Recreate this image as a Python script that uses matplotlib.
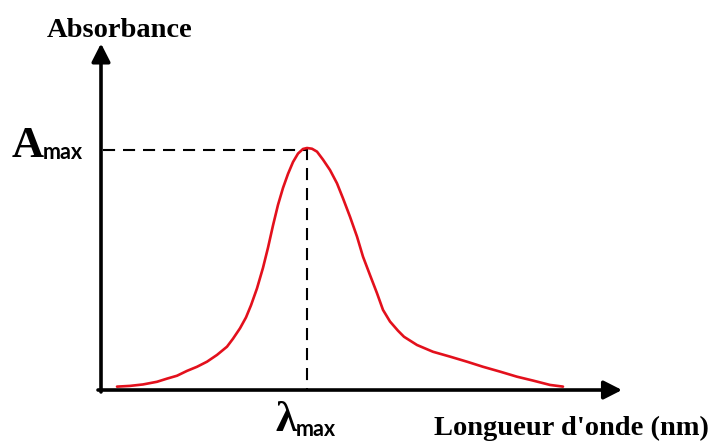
import matplotlib
matplotlib.use("Agg")
import matplotlib.pyplot as plt

# Spectrum data (wavelength in arbitrary units, absorbance normalised to A_max = 1)
wavelength = [16, 29, 42, 56, 66, 76, 86, 96, 106, 116, 126, 132, 139, 145, 150,
              156, 162, 167, 172, 177, 182, 187, 192, 197, 202, 206, 211, 216, 222,
              229, 236, 242, 249, 256, 262, 269, 276, 282, 289, 297, 303, 316, 332,
              349, 366, 382, 399, 416, 432, 449, 462]
absorbance = [0.014, 0.017, 0.023, 0.034, 0.047, 0.059, 0.079, 0.096, 0.117, 0.145,
              0.179, 0.212, 0.255, 0.300, 0.350, 0.420, 0.505, 0.588, 0.680, 0.765,
              0.835, 0.893, 0.942, 0.977, 0.996, 1.0, 0.997, 0.985, 0.952, 0.909,
              0.854, 0.792, 0.716, 0.634, 0.551, 0.475, 0.400, 0.331, 0.283, 0.245,
              0.220, 0.186, 0.158, 0.138, 0.117, 0.096, 0.076, 0.055, 0.039, 0.021,
              0.014]

lambda_max = wavelength[absorbance.index(max(absorbance))]
a_max = max(absorbance)

y_label = "Absorbance"
x_label = "Longueur d'onde (nm)"

fig = plt.figure(figsize=(7.10, 4.41), dpi=100)
ax = fig.add_axes([0, 0, 1, 1])
ax.set_xlim(-101, 609)
ax.set_ylim(-0.2107, 1.6116)
ax.axis("off")

serif = "Liberation Serif"
sans = "Lato"

# axes with arrows
arrow_style = "-|>,head_length=0.55,head_width=0.28"
ax.annotate("", xy=(0, 1.432), xytext=(0, -0.008),
            arrowprops=dict(arrowstyle=arrow_style, lw=2.6, color="black",
                            mutation_scale=20, shrinkA=0, shrinkB=0))
ax.annotate("", xy=(521, 0), xytext=(-3, 0),
            arrowprops=dict(arrowstyle=arrow_style, lw=2.6, color="black",
                            mutation_scale=20, shrinkA=0, shrinkB=0))

# dashed guide lines
ax.plot([2, lambda_max], [a_max * 0.992, a_max * 0.992], color="black", lw=1.5,
        linestyle=(0, (5.8, 3.8)))
ax.plot([lambda_max, lambda_max], [a_max, 0], color="black", lw=1.5,
        linestyle=(0, (5.8, 3.8)))

# spectrum
ax.plot(wavelength, absorbance, color="#e3101c", lw=1.9, solid_capstyle="round",
        solid_joinstyle="round")

# labels
ax.text(19, 1.459, y_label, family=serif, weight="bold", fontsize=20.5,
        ha="center", va="baseline")
ax.text(608, -0.186, x_label, family=serif, weight="bold", fontsize=20.5,
        ha="right", va="baseline")

ax.text(-89, 0.963, "A", family=serif, weight="bold", fontsize=32,
        ha="left", va="baseline")
ax.text(-58, 0.955, "max", family=sans, weight="bold", fontsize=15.5,
        ha="left", va="baseline")

ax.text(174, -0.168, "λ", family=serif, weight="bold", fontsize=31,
        ha="left", va="baseline")
ax.text(195, -0.190, "max", family=sans, weight="bold", fontsize=15.5,
        ha="left", va="baseline")

fig.savefig("out.png", dpi=100, facecolor="white")
